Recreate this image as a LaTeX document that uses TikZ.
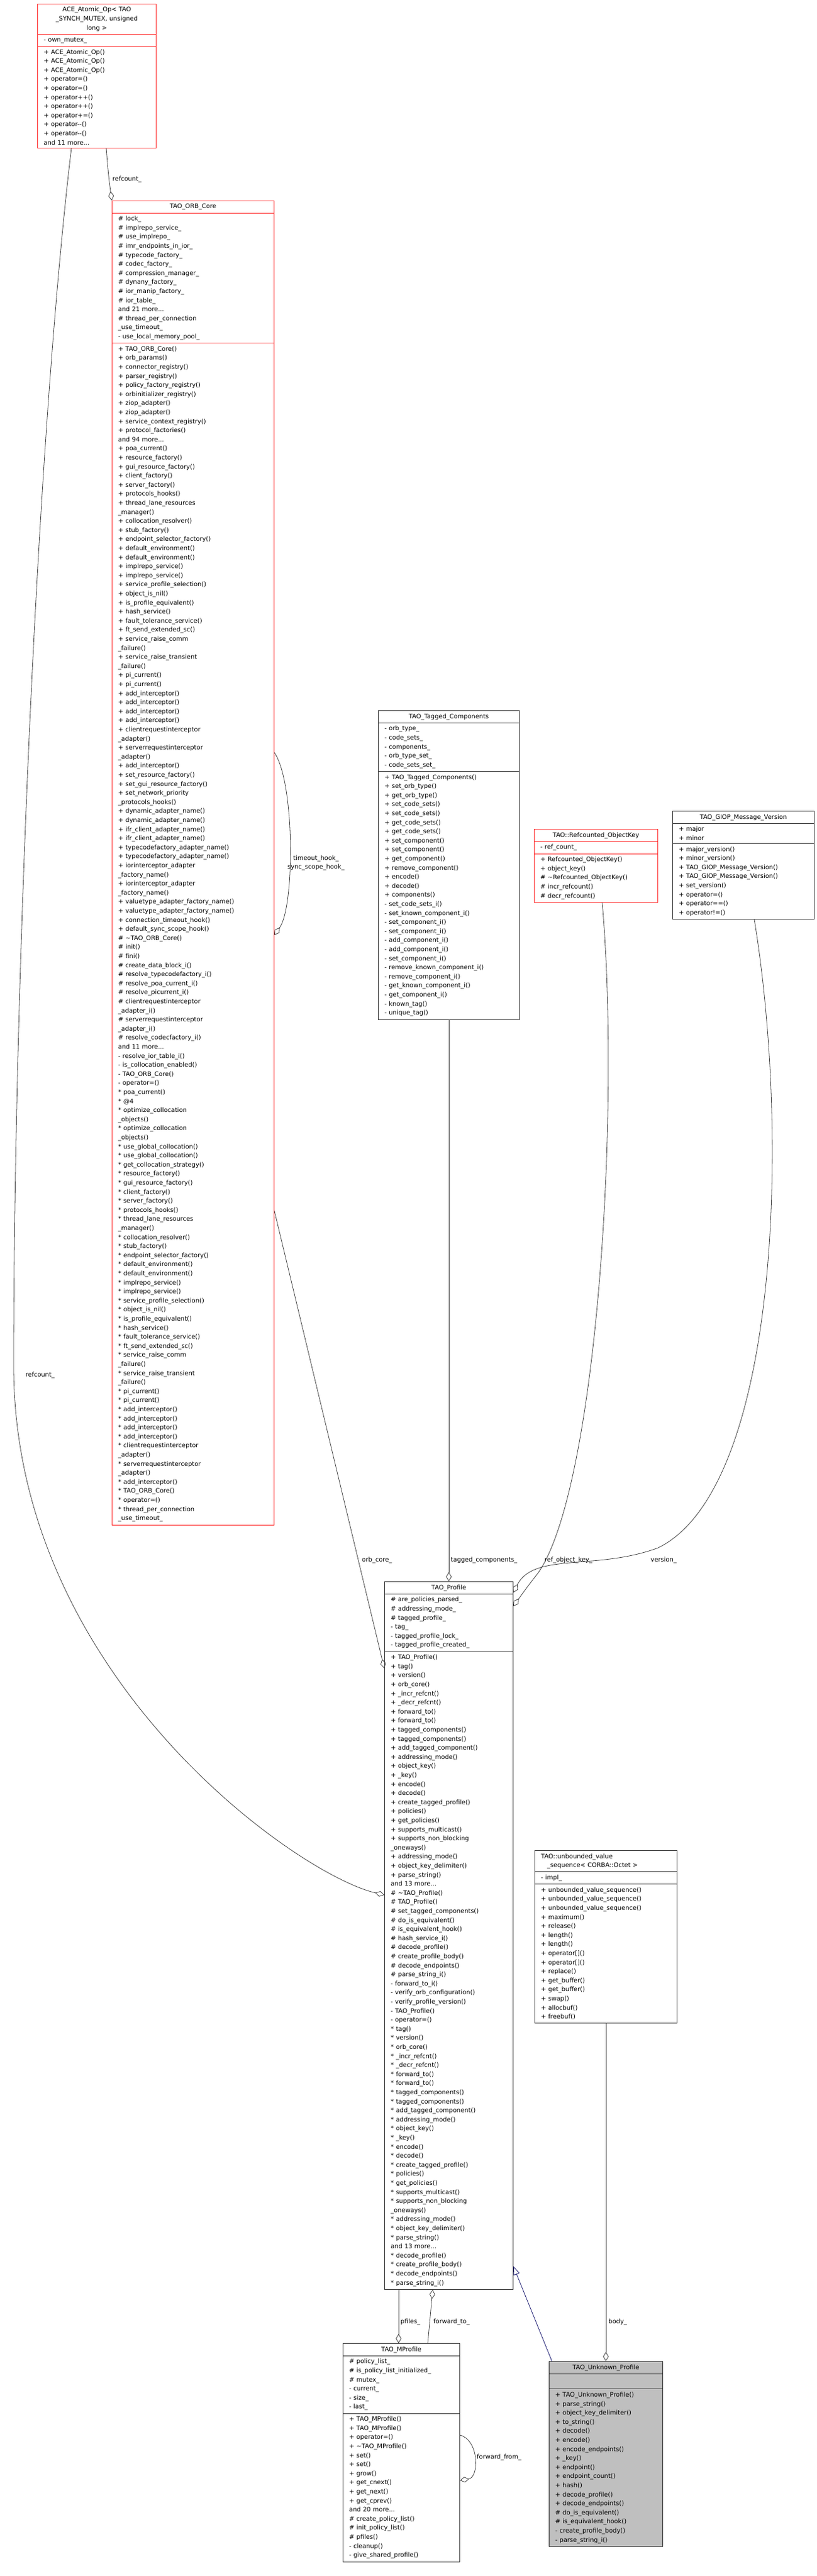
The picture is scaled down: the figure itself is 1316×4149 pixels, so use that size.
\documentclass[tikz,border=0pt]{standalone}
\usepackage{fontspec}
\setmainfont{DejaVu Sans}
\usepackage{tikz}
\usetikzlibrary{shapes.multipart,arrows.meta,calc}
\definecolor{boxred}{HTML}{FF3030}
\definecolor{edgegray}{HTML}{404040}
\definecolor{inhblue}{HTML}{191970}
\definecolor{focusgray}{HTML}{BFBFBF}
\newcommand{\classbox}[7][]{%
  \node[umlclass,text width=#4,#1] (#2) at (#3) {#5\nodepart{second}#6\nodepart{third}#7};}
\newcommand{\ctr}[1]{\leavevmode\makebox[\linewidth]{#1}}
\tikzset{
  umlclass/.style={rectangle split,rectangle split parts=3,draw=black!80,line width=0.9pt,
    anchor=north west,inner xsep=10pt,inner ysep=4.5pt,align=left,
    font=\fontsize{10}{14.6}\selectfont},
  redclass/.style={draw=boxred},
  member/.style={draw=edgegray,line width=0.8pt},
  has/.style={member,-{Diamond[open,length=15pt,width=9pt]}},
  isa/.style={draw=inhblue,line width=0.8pt,-{Triangle[open,length=14pt,width=10pt]}},
  edgelabel/.style={anchor=west,font=\fontsize{10}{14.6}\selectfont,inner sep=1pt}
}
\begin{document}
\begin{tikzpicture}[x=1pt,y=-1pt]
\useasboundingbox (0,0) rectangle (1316,4149);

% classes
\classbox[redclass]{ace}{60,6}{171pt}{\ctr{ACE\_Atomic\_Op< TAO}\\\ctr{\_SYNCH\_MUTEX, unsigned}\\\ctr{long >}}
  {- own\_mutex\_}
  {+ ACE\_Atomic\_Op()\\+ ACE\_Atomic\_Op()\\+ ACE\_Atomic\_Op()\\+ operator=()\\+ operator=()\\+ operator++()\\+ operator++()\\+ operator+=()\\+ operator-{}-()\\+ operator-{}-()\\and 11 more...}

\classbox[redclass]{orb}{180,323}{241pt}{\ctr{TAO\_ORB\_Core}}
  {\# lock\_\\\# implrepo\_service\_\\\# use\_implrepo\_\\\# imr\_endpoints\_in\_ior\_\\\# typecode\_factory\_\\\# codec\_factory\_\\\# compression\_manager\_\\\# dynany\_factory\_\\\# ior\_manip\_factory\_\\\# ior\_table\_\\and 21 more...\\\# thread\_per\_connection\\\_use\_timeout\_\\- use\_local\_memory\_pool\_}
  {+ TAO\_ORB\_Core()\\+ orb\_params()\\+ connector\_registry()\\+ parser\_registry()\\+ policy\_factory\_registry()\\+ orbinitializer\_registry()\\+ ziop\_adapter()\\+ ziop\_adapter()\\+ service\_context\_registry()\\+ protocol\_factories()\\and 94 more...\\+ poa\_current()\\+ resource\_factory()\\+ gui\_resource\_factory()\\+ client\_factory()\\+ server\_factory()\\+ protocols\_hooks()\\+ thread\_lane\_resources\\\_manager()\\+ collocation\_resolver()\\+ stub\_factory()\\+ endpoint\_selector\_factory()\\+ default\_environment()\\+ default\_environment()\\+ implrepo\_service()\\+ implrepo\_service()\\+ service\_profile\_selection()\\+ object\_is\_nil()\\+ is\_profile\_equivalent()\\+ hash\_service()\\+ fault\_tolerance\_service()\\+ ft\_send\_extended\_sc()\\+ service\_raise\_comm\\\_failure()\\+ service\_raise\_transient\\\_failure()\\+ pi\_current()\\+ pi\_current()\\+ add\_interceptor()\\+ add\_interceptor()\\+ add\_interceptor()\\+ add\_interceptor()\\+ clientrequestinterceptor\\\_adapter()\\+ serverrequestinterceptor\\\_adapter()\\+ add\_interceptor()\\+ set\_resource\_factory()\\+ set\_gui\_resource\_factory()\\+ set\_network\_priority\\\_protocols\_hooks()\\+ dynamic\_adapter\_name()\\+ dynamic\_adapter\_name()\\+ ifr\_client\_adapter\_name()\\+ ifr\_client\_adapter\_name()\\+ typecodefactory\_adapter\_name()\\+ typecodefactory\_adapter\_name()\\+ iorinterceptor\_adapter\\\_factory\_name()\\+ iorinterceptor\_adapter\\\_factory\_name()\\+ valuetype\_adapter\_factory\_name()\\+ valuetype\_adapter\_factory\_name()\\+ connection\_timeout\_hook()\\+ default\_sync\_scope\_hook()\\\# \textasciitilde TAO\_ORB\_Core()\\\# init()\\\# fini()\\\# create\_data\_block\_i()\\\# resolve\_typecodefactory\_i()\\\# resolve\_poa\_current\_i()\\\# resolve\_picurrent\_i()\\\# clientrequestinterceptor\\\_adapter\_i()\\\# serverrequestinterceptor\\\_adapter\_i()\\\# resolve\_codecfactory\_i()\\and 11 more...\\- resolve\_ior\_table\_i()\\- is\_collocation\_enabled()\\- TAO\_ORB\_Core()\\- operator=()\\{}* poa\_current()\\{}* @4\\{}* optimize\_collocation\\\_objects()\\{}* optimize\_collocation\\\_objects()\\{}* use\_global\_collocation()\\{}* use\_global\_collocation()\\{}* get\_collocation\_strategy()\\{}* resource\_factory()\\{}* gui\_resource\_factory()\\{}* client\_factory()\\{}* server\_factory()\\{}* protocols\_hooks()\\{}* thread\_lane\_resources\\\_manager()\\{}* collocation\_resolver()\\{}* stub\_factory()\\{}* endpoint\_selector\_factory()\\{}* default\_environment()\\{}* default\_environment()\\{}* implrepo\_service()\\{}* implrepo\_service()\\{}* service\_profile\_selection()\\{}* object\_is\_nil()\\{}* is\_profile\_equivalent()\\{}* hash\_service()\\{}* fault\_tolerance\_service()\\{}* ft\_send\_extended\_sc()\\{}* service\_raise\_comm\\\_failure()\\{}* service\_raise\_transient\\\_failure()\\{}* pi\_current()\\{}* pi\_current()\\{}* add\_interceptor()\\{}* add\_interceptor()\\{}* add\_interceptor()\\{}* add\_interceptor()\\{}* clientrequestinterceptor\\\_adapter()\\{}* serverrequestinterceptor\\\_adapter()\\{}* add\_interceptor()\\{}* TAO\_ORB\_Core()\\{}* operator=()\\{}* thread\_per\_connection\\\_use\_timeout\_}

\classbox{tagged}{609,1144}{207pt}{\ctr{TAO\_Tagged\_Components}}
  {- orb\_type\_\\- code\_sets\_\\- components\_\\- orb\_type\_set\_\\- code\_sets\_set\_}
  {+ TAO\_Tagged\_Components()\\+ set\_orb\_type()\\+ get\_orb\_type()\\+ set\_code\_sets()\\+ set\_code\_sets()\\+ get\_code\_sets()\\+ get\_code\_sets()\\+ set\_component()\\+ set\_component()\\+ get\_component()\\+ remove\_component()\\+ encode()\\+ decode()\\+ components()\\- set\_code\_sets\_i()\\- set\_known\_component\_i()\\- set\_component\_i()\\- set\_component\_i()\\- add\_component\_i()\\- add\_component\_i()\\- set\_component\_i()\\- remove\_known\_component\_i()\\- remove\_component\_i()\\- get\_known\_component\_i()\\- get\_component\_i()\\- known\_tag()\\- unique\_tag()}

\classbox[redclass]{refkey}{860,1335}{179pt}{\ctr{TAO::Refcounted\_ObjectKey}}
  {- ref\_count\_}
  {+ Refcounted\_ObjectKey()\\+ object\_key()\\\# \textasciitilde Refcounted\_ObjectKey()\\\# incr\_refcount()\\\# decr\_refcount()}

\classbox{giop}{1083,1306}{208pt}{\ctr{TAO\_GIOP\_Message\_Version}}
  {+ major\\+ minor}
  {+ major\_version()\\+ minor\_version()\\+ TAO\_GIOP\_Message\_Version()\\+ TAO\_GIOP\_Message\_Version()\\+ set\_version()\\+ operator=()\\+ operator==()\\+ operator!=()}

\classbox{profile}{619,2547}{187pt}{\ctr{TAO\_Profile}}
  {\# are\_policies\_parsed\_\\\# addressing\_mode\_\\\# tagged\_profile\_\\- tag\_\\- tagged\_profile\_lock\_\\- tagged\_profile\_created\_}
  {+ TAO\_Profile()\\+ tag()\\+ version()\\+ orb\_core()\\+ \_incr\_refcnt()\\+ \_decr\_refcnt()\\+ forward\_to()\\+ forward\_to()\\+ tagged\_components()\\+ tagged\_components()\\+ add\_tagged\_component()\\+ addressing\_mode()\\+ object\_key()\\+ \_key()\\+ encode()\\+ decode()\\+ create\_tagged\_profile()\\+ policies()\\+ get\_policies()\\+ supports\_multicast()\\+ supports\_non\_blocking\\\_oneways()\\+ addressing\_mode()\\+ object\_key\_delimiter()\\+ parse\_string()\\and 13 more...\\\# \textasciitilde TAO\_Profile()\\\# TAO\_Profile()\\\# set\_tagged\_components()\\\# do\_is\_equivalent()\\\# is\_equivalent\_hook()\\\# hash\_service\_i()\\\# decode\_profile()\\\# create\_profile\_body()\\\# decode\_endpoints()\\\# parse\_string\_i()\\- forward\_to\_i()\\- verify\_orb\_configuration()\\- verify\_profile\_version()\\- TAO\_Profile()\\- operator=()\\{}* tag()\\{}* version()\\{}* orb\_core()\\{}* \_incr\_refcnt()\\{}* \_decr\_refcnt()\\{}* forward\_to()\\{}* forward\_to()\\{}* tagged\_components()\\{}* tagged\_components()\\{}* add\_tagged\_component()\\{}* addressing\_mode()\\{}* object\_key()\\{}* \_key()\\{}* encode()\\{}* decode()\\{}* create\_tagged\_profile()\\{}* policies()\\{}* get\_policies()\\{}* supports\_multicast()\\{}* supports\_non\_blocking\\\_oneways()\\{}* addressing\_mode()\\{}* object\_key\_delimiter()\\{}* parse\_string()\\and 13 more...\\{}* decode\_profile()\\{}* create\_profile\_body()\\{}* decode\_endpoints()\\{}* parse\_string\_i()}

\classbox{seq}{861,2980}{209pt}{TAO::unbounded\_value\\\hspace*{10pt}\_sequence< CORBA::Octet >}
  {- impl\_}
  {+ unbounded\_value\_sequence()\\+ unbounded\_value\_sequence()\\+ unbounded\_value\_sequence()\\+ maximum()\\+ release()\\+ length()\\+ length()\\+ operator[]()\\+ operator[]()\\+ replace()\\+ get\_buffer()\\+ get\_buffer()\\+ swap()\\+ allocbuf()\\+ freebuf()}

\classbox{mprofile}{552,3774}{168pt}{\ctr{TAO\_MProfile}}
  {\# policy\_list\_\\\# is\_policy\_list\_initialized\_\\\# mutex\_\\- current\_\\- size\_\\- last\_}
  {+ TAO\_MProfile()\\+ TAO\_MProfile()\\+ operator=()\\+ \textasciitilde TAO\_MProfile()\\+ set()\\+ set()\\+ grow()\\+ get\_cnext()\\+ get\_next()\\+ get\_cprev()\\and 20 more...\\\# create\_policy\_list()\\\# init\_policy\_list()\\\# pfiles()\\- cleanup()\\- give\_shared\_profile()}

\classbox[fill=focusgray]{unknown}{884,3803}{163pt}{\ctr{TAO\_Unknown\_Profile}}
  {\strut}
  {+ TAO\_Unknown\_Profile()\\+ parse\_string()\\+ object\_key\_delimiter()\\+ to\_string()\\+ decode()\\+ encode()\\+ encode\_endpoints()\\+ \_key()\\+ endpoint()\\+ endpoint\_count()\\+ hash()\\+ decode\_profile()\\+ decode\_endpoints()\\\# do\_is\_equivalent()\\\# is\_equivalent\_hook()\\- create\_profile\_body()\\- parse\_string\_i()}

% connectors
\draw[has] ($(ace.south west)+(111,0)$) .. controls (175,285) .. (orb.north west);
\node[edgelabel] (lrefcount) at (180,289) {refcount\_};
\draw[has] ($(ace.south west)+(55,0)$) .. controls (60,700) and (22,1600) .. (22,2200)
  .. controls (22,2700) and (480,3020) .. ($(profile.north west)+(0,505)$);
\node[edgelabel] (lrefcountb) at (40,2215) {refcount\_};
\draw[has] ($(orb.north east)+(0,889)$) .. controls (475,1260) and (475,1460) .. ($(orb.north east)+(0,1183)$);
\node[edgelabel,align=center] (lhook) at (462,1390) {timeout\_hook\_\\sync\_scope\_hook\_};
\draw[has] ($(orb.north east)+(0,1627)$) -- ($(profile.north west)+(0,140)$);
\node[edgelabel] (lorbcore) at (582,2513) {orb\_core\_};
\draw[has] (tagged.south) -- (profile.north);
\node[edgelabel] (ltagged) at (725,2513) {tagged\_components\_};
\draw[has] ($(refkey.south west)+(110,0)$) .. controls (1000,1800) and (960,2400) .. (867,2533)
  .. controls (850,2555) .. ($(profile.north east)+(0,40)$);
\node[edgelabel] (lrefkey) at (876,2513) {ref\_object\_key\_};
\draw[has] ($(giop.south west)+(132,0)$) .. controls (1275,1850) and (1250,2400) .. (1060,2493)
  .. controls (960,2530) and (860,2500) .. ($(profile.north east)+(0,18)$);
\node[edgelabel] (lversion) at (1047,2513) {version\_};
\draw[has] (seq.south) -- (unknown.north);
\node[edgelabel] (lbody) at (979,3740) {body\_};
\draw[isa] ($(unknown.north west)+(5,0)$) -- ($(profile.north east)+(0,1103)$);
\draw[has] ($(profile.south west)+(23,0)$) -- ($(mprofile.north west)+(90,0)$);
\node[edgelabel] (lpfiles) at (644,3740) {pfiles\_};
\draw[has] ($(mprofile.north west)+(137,0)$) -- ($(profile.south west)+(78,0)$);
\node[edgelabel] (lforward) at (697,3740) {forward\_to\_};
\draw[has] ($(mprofile.north east)+(0,148)$) .. controls (772,3930) and (772,3990) .. ($(mprofile.north east)+(0,221)$);
\node[edgelabel] (lfrom) at (767,3958) {forward\_from\_};
\end{tikzpicture}
\end{document}
